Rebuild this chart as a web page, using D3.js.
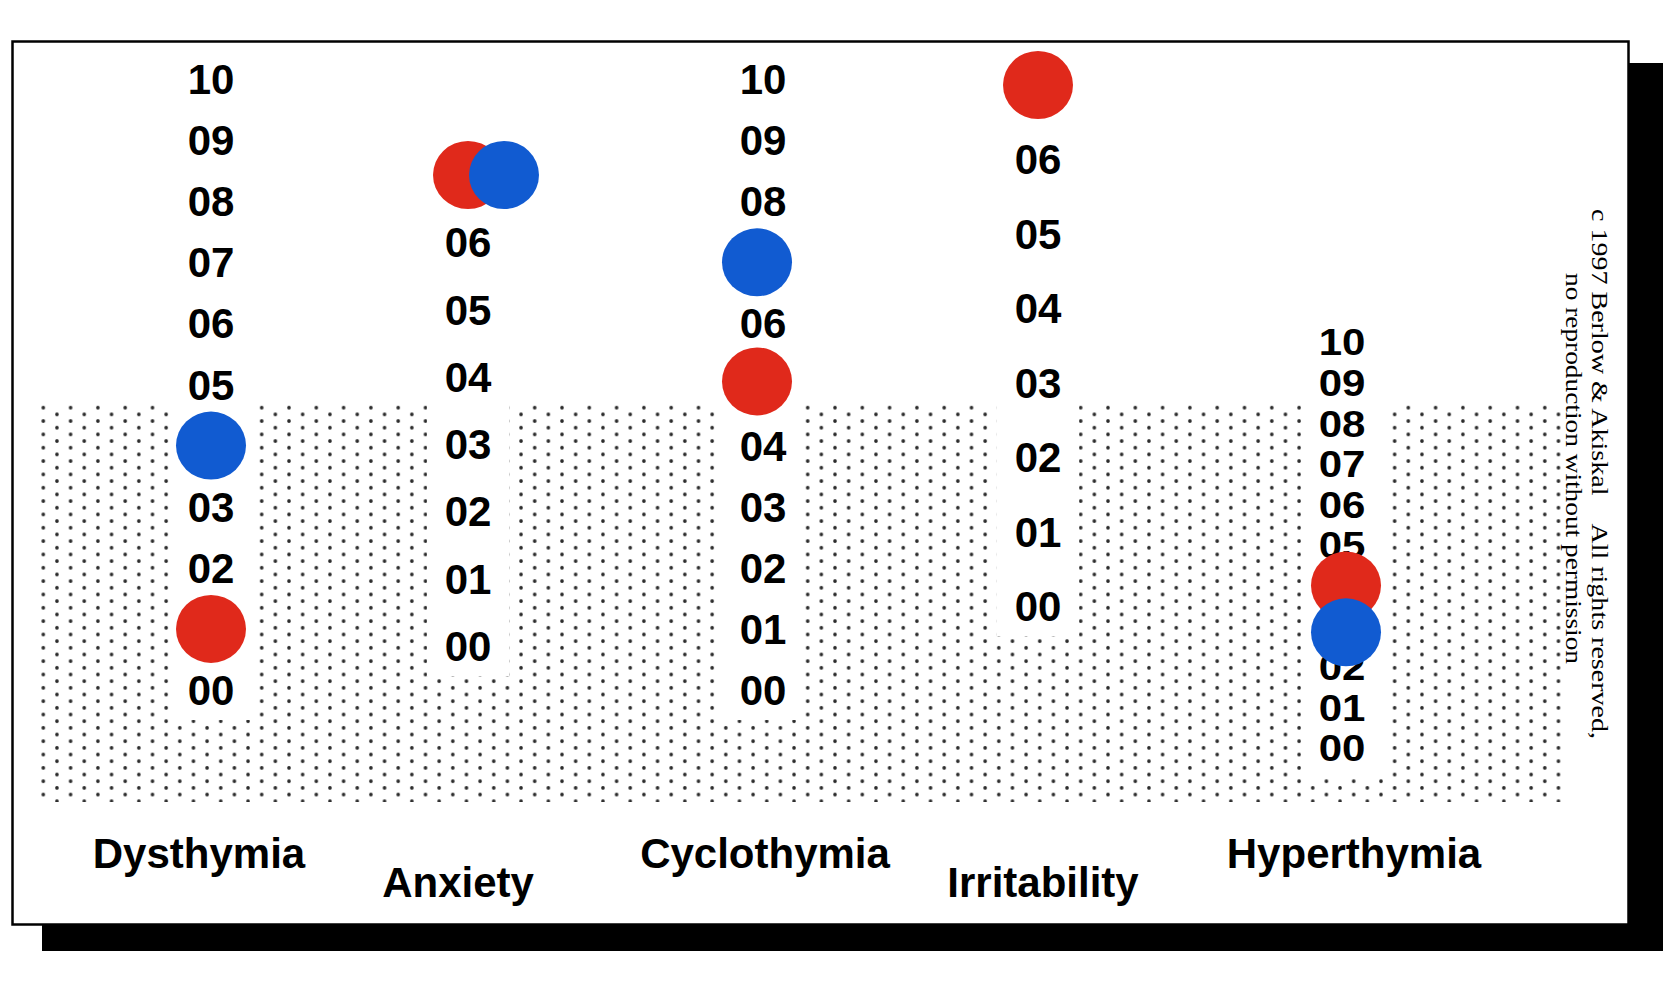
<!DOCTYPE html>
<html>
<head>
<meta charset="utf-8">
<script src="https://cdn.jsdelivr.net/npm/d3@7"></script>
<style>
  html, body { margin: 0; padding: 0; background: #fff; }
  svg { display: block; }
</style>
</head>
<body>
<svg id="chart" width="1680" height="989"></svg>
<script>
// ---- data ----
const categories = ["Dysthymia", "Anxiety", "Cyclothymia", "Irritability", "Hyperthymia"];
const scaleMax   = [10, 7, 10, 7, 10];          // top of each column's 00..NN scale
const redValues  = [1, 7, 5.05, 7, 4];
const blueValues = [4, 7, 7, null, 2.85];
const copyrightLines = [
  "c 1997 Berlow & Akiskal\u00a0\u00a0\u00a0\u00a0All rights reserved,",
  "no reproduction without permission"
];

// ---- layout ----
const svg = d3.select("#chart");
const RED = "#e0291b", BLUE = "#115bd1";

const xLabels = d3.scaleOrdinal().domain(categories).range([211, 468, 763, 1038, 1342]);
const xDots   = d3.scaleOrdinal().domain(categories).range([211, 468, 757, 1038, 1346]);
const yRanges = {
  Dysthymia:   [690, 79],
  Anxiety:     [646, 175],
  Cyclothymia: [690, 79],
  Irritability:[606, 85],
  Hyperthymia: [748, 342]
};
const labelScaleY = { Hyperthymia: 0.89 };
const yCol = {};
categories.forEach((c, i) => {
  yCol[c] = d3.scaleLinear().domain([0, scaleMax[i]]).range(yRanges[c]);
});

// shadow and frame
svg.append("rect").attr("x", 42).attr("y", 63).attr("width", 1621).attr("height", 888).attr("fill", "#000");
svg.append("rect").attr("x", 12.5).attr("y", 41.5).attr("width", 1616).attr("height", 883)
  .attr("fill", "#fff").attr("stroke", "#000").attr("stroke-width", 2.5);

// dotted region
const defs = svg.append("defs");
const pat = defs.append("pattern").attr("id", "dots").attr("patternUnits", "userSpaceOnUse")
  .attr("x", 43.3).attr("y", 407.7).attr("width", 27.3).attr("height", 13.34);
[[0,0],[27.3,0],[0,13.34],[27.3,13.34],[13.65,6.67]].forEach(p => {
  pat.append("circle").attr("cx", p[0]).attr("cy", p[1]).attr("r", 1.8).attr("fill", "#2a2a2a");
});
svg.append("rect").attr("x", 41).attr("y", 405).attr("width", 1527).attr("height", 397).attr("fill", "url(#dots)");

// white bands behind each column of numbers
svg.selectAll("rect.band").data(categories).join("rect").attr("class", "band")
  .attr("x", d => xLabels(d) - 41).attr("y", 403)
  .attr("width", 82)
  .attr("height", d => Math.max(0, yCol[d](0) + 30 - 403))
  .attr("fill", "#fff");

// number labels per column
categories.forEach((c, i) => {
  const ticks = d3.range(0, scaleMax[i] + 1);
  const sy = labelScaleY[c] || 1;
  svg.append("g").selectAll("text").data(ticks).join("text")
    .attr("transform", d => `translate(${xLabels(c)},${yCol[c](d)}) scale(1,${sy})`)
    .attr("y", 15)
    .attr("text-anchor", "middle")
    .attr("font-family", "'Liberation Sans', Arial, Helvetica, sans-serif")
    .attr("font-weight", "bold")
    .attr("font-size", 42)
    .attr("fill", "#000")
    .text(d => d3.format("02d")(d));
});

// dots: red first, blue on top (blue shifted right when it ties with red at the same column)
const RX = 35, RY = 34;
svg.append("g").selectAll("ellipse")
  .data(categories.map((c, i) => ({c, v: redValues[i]})).filter(d => d.v != null))
  .join("ellipse")
  .attr("cx", d => xDots(d.c)).attr("cy", d => yCol[d.c](d.v))
  .attr("rx", RX).attr("ry", RY).attr("fill", RED);
svg.append("g").selectAll("ellipse")
  .data(categories.map((c, i) => ({c, v: blueValues[i], tie: blueValues[i] === redValues[i]})).filter(d => d.v != null))
  .join("ellipse")
  .attr("cx", d => xDots(d.c) + (d.tie ? 36 : 0)).attr("cy", d => yCol[d.c](d.v))
  .attr("rx", RX).attr("ry", RY).attr("fill", BLUE);

// category labels
const catLabelX = d3.scaleOrdinal().domain(categories).range([199, 458, 765, 1043, 1354]);
const catLabelY = d3.scaleOrdinal().domain(categories).range([868, 897, 868, 897, 868]);
svg.append("g").selectAll("text").data(categories).join("text")
  .attr("x", d => catLabelX(d)).attr("y", d => catLabelY(d))
  .attr("text-anchor", "middle")
  .attr("font-family", "'Liberation Sans', Arial, Helvetica, sans-serif")
  .attr("font-weight", "bold")
  .attr("font-size", 42)
  .attr("fill", "#000")
  .text(d => d);

// copyright (rotated)
const cpX = [1592, 1566], cpY = [209, 273], cpLen = [530, 391];
svg.append("g").selectAll("text").data(copyrightLines).join("text")
  .attr("transform", (d, i) => `translate(${cpX[i]},${cpY[i]}) rotate(90)`)
  .attr("font-family", "'Liberation Serif', 'Times New Roman', serif")
  .attr("font-size", 24)
  .attr("textLength", (d, i) => cpLen[i])
  .attr("lengthAdjust", "spacingAndGlyphs")
  .attr("fill", "#000")
  .text(d => d);
</script>
</body>
</html>
